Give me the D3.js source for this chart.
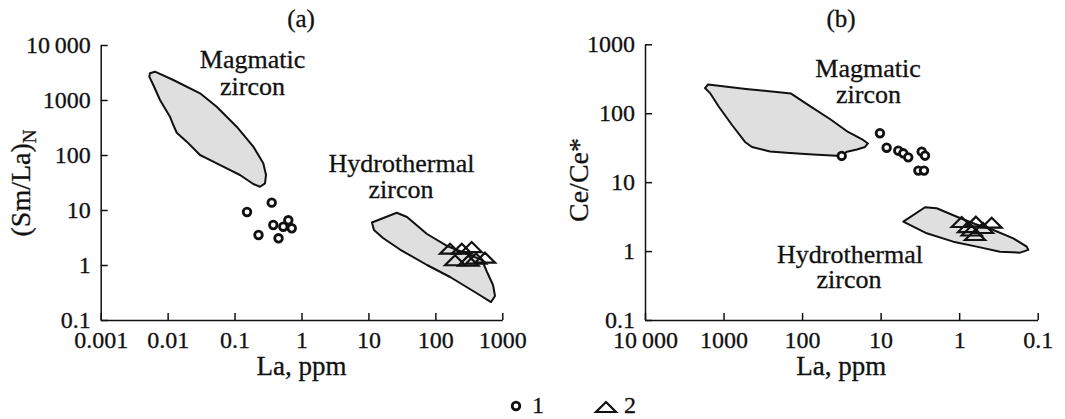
<!DOCTYPE html>
<html>
<head>
<meta charset="utf-8">
<script src="https://cdn.jsdelivr.net/npm/d3@7"></script>
<style>
  body { margin: 0; background: #fff; }
  svg { display: block; }
  text { font-family: "Liberation Serif", "Times New Roman", serif; fill: #111; stroke: #111; stroke-width: 0.3px; }
</style>
</head>
<body>
<div id="chart"></div>
<script>
// (a) La vs (Sm/La)N
var magmaticA = [[0.00546,3055],[0.00647,3270],[0.01216,2310],[0.0305,1325],[0.0541,755],[0.1076,327],
  [0.1905,142],[0.2686,70.6],[0.295,43.3],[0.285,30.5],[0.240,26.5],[0.1905,29.7],[0.1205,43.3],
  [0.0764,57.3],[0.0384,87.1],[0.0305,100],[0.0193,175],[0.01368,254],[0.01216,351],[0.01083,497],
  [0.00769,1000],[0.00611,1874],[0.00532,2655]];
var hydroA = [[11.3,5.93],[26.5,8.93],[37.7,7.46],[75,3.66],[149,2.22],[330,1.52],[498,1.23],[591,0.746],
  [727,0.433],[778,0.273],[679,0.212],[434,0.297],[166,0.605],[75,1.0],[29.6,1.91],[16.5,3.1],[12.1,4.33]];
var pointsA1 = [[0.1535,9.2],[0.359,13.6],[0.228,3.51],[0.379,5.34],[0.454,3.06],[0.535,4.97],[0.635,6.5],[0.715,4.65]];
var pointsA2 = [[165.6,1.98],[349,2.12],[197,1.22],[552,1.36],[311,1.2],[248,1.98],[405,1.31]];

// (b) La vs Ce/Ce*
var magmaticB = [[1722,232],[1578,261],[518,225],[138,193],[79.3,127],[44.2,82.4],[26.0,53.5],[16.7,40.9],
  [14.5,36.4],[15.8,32.4],[20.0,29.8],[26.8,27.7],[31.9,24.0],[72.6,25.2],[143,26.5],[256,27.9],[434,32.4],
  [533,38.3],[780,67.5],[1142,123],[1486,196]];
var hydroB = [[5.14,2.67],[2.72,4.32],[1.93,4.18],[1.07,3.15],[0.628,2.47],[0.367,2.02],[0.2047,1.53],[0.138,1.16],
  [0.1318,1.04],[0.168,0.948],[0.302,0.98],[0.598,1.16],[1.19,1.37],[2.59,1.81],[3.84,2.26]];
var pointsB1 = [[31.3,24.0],[10.2,51.2],[8.38,31.6],[5.96,28.6],[5.14,26.2],[4.45,22.9],[3.0,27.7],[2.72,24.2],[3.31,14.7],[2.80,14.7]];
var pointsB2 = [[0.929,2.64],[0.611,2.67],[0.385,2.58],[0.692,1.99],[0.628,1.71],[0.771,2.23],[0.497,2.16]];

var ticksA_x = [0.001, 0.01, 0.1, 1, 10, 100, 1000];
var ticksA_y = [0.1, 1, 10, 100, 1000, 10000];
var ticksB_x = [10000, 1000, 100, 10, 1, 0.1];
var ticksB_y = [0.1, 1, 10, 100, 1000];
var legendItems = ["1", "2"];

var svg = d3.select("#chart").append("svg")
  .attr("width", 1065)
  .attr("height", 419);

function fmt(d) {
  if (d === 10000) return "10\u2009000";
  return String(d);
}

function triPath(w, h) {
  return "M0," + (-h / 2) + "L" + (w / 2) + "," + (h / 2) + "L" + (-w / 2) + "," + (h / 2) + "Z";
}

function drawPanel(cfg) {
  var x = d3.scaleLog().domain(cfg.xDomain).range(cfg.xRange);
  var y = d3.scaleLog().domain(cfg.yDomain).range(cfg.yRange);

  var line = d3.line()
    .x(function(d) { return x(d[0]); })
    .y(function(d) { return y(d[1]); })
    .curve(d3.curveLinearClosed);

  var g = svg.append("g");

  // fields
  g.selectAll("path.field")
    .data(cfg.fields)
    .enter().append("path")
    .attr("class", "field")
    .attr("d", line)
    .attr("fill", "#dfdfdf")
    .attr("stroke", "#111")
    .attr("stroke-width", 2)
    .attr("stroke-linejoin", "round");

  // axes
  var xAxis = d3.axisBottom(x).tickValues(cfg.xTicks).tickFormat(fmt)
    .tickSizeInner(-7).tickSizeOuter(0).tickPadding(11);
  var yAxis = d3.axisLeft(y).tickValues(cfg.yTicks).tickFormat(fmt)
    .tickSizeInner(-7).tickSizeOuter(0).tickPadding(10);

  var gx = g.append("g")
    .attr("transform", "translate(0," + cfg.yRange[0] + ")")
    .call(xAxis);
  var gy = g.append("g")
    .attr("transform", "translate(" + cfg.xRange[0] + ",0)")
    .call(yAxis);

  [gx, gy].forEach(function(a) {
    a.selectAll("path, line").attr("stroke", "#111").attr("stroke-width", 1.5);
    a.selectAll("text")
      .style("font-family", "'Liberation Serif', serif")
      .style("font-size", "24px")
      .attr("fill", "#111");
  });

  // triangles
  g.selectAll("path.tri")
    .data(cfg.tri)
    .enter().append("path")
    .attr("class", "tri")
    .attr("d", triPath(20, 10))
    .attr("transform", function(d) { return "translate(" + x(d[0]) + "," + y(d[1]) + ")"; })
    .attr("fill", "none")
    .attr("stroke", "#111")
    .attr("stroke-width", 2.2);

  // circles
  g.selectAll("circle.pt")
    .data(cfg.circ)
    .enter().append("circle")
    .attr("class", "pt")
    .attr("cx", function(d) { return x(d[0]); })
    .attr("cy", function(d) { return y(d[1]); })
    .attr("r", 3.8)
    .attr("fill", "#fff")
    .attr("stroke", "#111")
    .attr("stroke-width", 2.8);

  // panel letter
  g.append("text")
    .attr("x", cfg.titleX).attr("y", 27)
    .attr("text-anchor", "middle")
    .style("font-size", "25px")
    .text(cfg.title);

  // x title
  g.append("text")
    .attr("x", (cfg.xRange[0] + cfg.xRange[1]) / 2).attr("y", 375)
    .attr("text-anchor", "middle")
    .style("font-size", "27px")
    .text("La, ppm");

  // y title
  var yt = g.append("text")
    .attr("transform", "translate(" + cfg.yTitleX + "," + cfg.yTitleY + ") rotate(-90)")
    .attr("text-anchor", "middle")
    .style("font-size", "28px");
  yt.append("tspan").text(cfg.yTitle);
  if (cfg.yTitleSub) {
    yt.append("tspan").attr("dy", 6).style("font-size", "19px").text(cfg.yTitleSub);
  }

  // field labels
  cfg.labels.forEach(function(l) {
    g.append("text")
      .attr("x", l.x).attr("y", l.y)
      .attr("text-anchor", "middle")
      .style("font-size", "26px")
      .text(l.t);
  });
}

drawPanel({
  xDomain: [0.001, 1000], xRange: [100.7, 502.3],
  yDomain: [0.1, 10000], yRange: [320, 45],
  xTicks: ticksA_x, yTicks: ticksA_y,
  fields: [magmaticA, hydroA],
  circ: pointsA1, tri: pointsA2,
  title: "(a)", titleX: 301,
  yTitle: "(Sm/La)", yTitleSub: "N", yTitleX: 29.5, yTitleY: 183,
  labels: [
    {t: "Magmatic", x: 252.5, y: 68},
    {t: "zircon", x: 252.5, y: 95},
    {t: "Hydrothermal", x: 401.5, y: 171.5},
    {t: "zircon", x: 401, y: 198}
  ]
});

drawPanel({
  xDomain: [10000, 0.1], xRange: [645, 1037.7],
  yDomain: [0.1, 1000], yRange: [320, 44.3],
  xTicks: ticksB_x, yTicks: ticksB_y,
  fields: [magmaticB, hydroB],
  circ: pointsB1, tri: pointsB2,
  title: "(b)", titleX: 841,
  yTitle: "Ce/Ce*", yTitleSub: null, yTitleX: 588, yTitleY: 180,
  labels: [
    {t: "Magmatic", x: 868, y: 76.5},
    {t: "zircon", x: 868.5, y: 103},
    {t: "Hydrothermal", x: 850, y: 263},
    {t: "zircon", x: 849, y: 288}
  ]
});

// legend
var leg = svg.append("g").attr("transform", "translate(516,406)");
leg.append("circle")
  .attr("cx", 0).attr("cy", 0).attr("r", 3.8)
  .attr("fill", "#fff").attr("stroke", "#111").attr("stroke-width", 2.8);
leg.append("text").attr("x", 16).attr("y", 7).style("font-size", "24px").text(legendItems[0]);
leg.append("path")
  .attr("d", triPath(20, 10))
  .attr("transform", "translate(90,1)")
  .attr("fill", "none").attr("stroke", "#111").attr("stroke-width", 2.2);
leg.append("text").attr("x", 108).attr("y", 7).style("font-size", "24px").text(legendItems[1]);
</script>
</body>
</html>
